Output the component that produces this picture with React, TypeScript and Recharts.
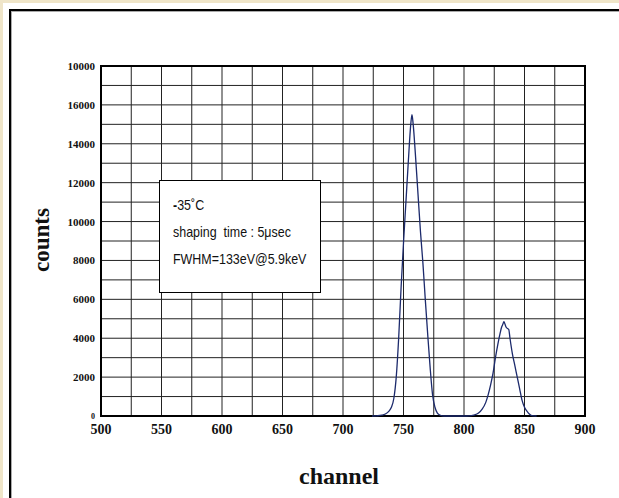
import React from "react";
import { LineChart, Line, XAxis, YAxis, CartesianGrid, ReferenceArea } from "recharts";

// channel positions and counts
const channels = [
  724, 728, 732, 735, 738, 740, 742, 744, 746, 748, 750, 752, 754, 756, 757,
  758, 760, 762, 764, 766, 768, 770, 772, 774, 776, 778, 780, 782, 785,
  790, 796, 800, 804, 808, 812, 815, 818, 820, 822, 824, 826, 828, 830, 831, 832, 833,
  834, 835, 836, 837, 838, 840, 842, 844, 846, 848, 850, 852, 854, 856, 860,
];
const counts = [
  0, 10, 40, 100, 250, 450, 900, 2000, 4000, 6600, 8900, 11000, 13100, 15000, 15500,
  15000, 13300, 11400, 9500, 7900, 6000, 4200, 2500, 1100, 450, 150, 50, 10, 0,
  0, 0, 0, 10, 50, 150, 350, 700, 1100, 1600, 2200, 3000, 3700, 4300, 4550, 4700, 4850,
  4700, 4550, 4500, 4450, 4000, 3200, 2600, 2000, 1400, 800, 450, 250, 100, 20, 0,
];

const xTicks = [500, 550, 600, 650, 700, 750, 800, 850, 900];
const xGrid = [525, 550, 575, 600, 625, 650, 675, 700, 725, 750, 775, 800, 825, 850, 875];
const yTicks = [0, 2000, 4000, 6000, 8000, 10000, 12000, 14000, 16000, 18000];
const yTickLabels = ["0", "2000", "4000", "6000", "8000", "10000", "12000", "14000", "16000", "10000"];
const yGrid = [1000, 2000, 3000, 4000, 5000, 6000, 7000, 8000, 9000, 10000, 11000, 12000, 13000, 14000, 15000, 16000, 17000];

const infoLines = ["35˚C", "shaping  time : 5μsec", "FWHM=133eV@5.9keV"];

const data = channels.map((c, i) => ({ channel: c, counts: counts[i] }));

const serif = "'Liberation Serif', 'Times New Roman', serif";
const sans = "'Liberation Sans', Arial, sans-serif";

const YTick = (props: any) => {
  const { x, y, payload } = props;
  const idx = yTicks.indexOf(payload.value);
  const label = idx >= 0 ? yTickLabels[idx] : String(payload.value);
  const small = payload.value === 0;
  return (
    <text
      x={x}
      y={y}
      dy={small ? 3 : 4}
      textAnchor="end"
      fontFamily={serif}
      fontWeight="bold"
      fontSize={small ? 8 : 11}
      fill="#111"
    >
      {label}
    </text>
  );
};

export default function App() {
  return (
    <div
      style={{
        position: "fixed",
        left: 0,
        top: 0,
        width: 619,
        height: 498,
        background: "#fff",
        overflow: "hidden",
      }}
    >
      {/* page frame */}
      <div style={{ position: "absolute", left: 0, top: 0, width: 619, height: 3, background: "#efe5c8" }} />
      <div style={{ position: "absolute", left: 0, top: 0, width: 3, height: 498, background: "#efe5c8" }} />
      <div
        style={{
          position: "absolute",
          left: 9,
          top: 9,
          width: 640,
          height: 520,
          borderLeft: "2px solid #000",
          borderTop: "2px solid #000",
          boxShadow: "inset 1px 1px 0 #aaa",
        }}
      />
      <div style={{ position: "absolute", left: 0, top: 0 }}>
        <LineChart
          width={619}
          height={498}
          data={data}
          margin={{ top: 66, right: 34, bottom: 52, left: 0 }}
        >
          <CartesianGrid
            stroke="#222"
            strokeWidth={1}
            verticalValues={xGrid}
            horizontalValues={yGrid}
          />
          <XAxis
            dataKey="channel"
            type="number"
            domain={[500, 900]}
            ticks={xTicks}
            interval={0}
            height={30}
            tickSize={0}
            tickMargin={8}
            axisLine={false}
            tickLine={false}
            tick={{ fontFamily: serif, fontWeight: "bold", fontSize: 14, fill: "#111" }}
            allowDataOverflow
          />
          <YAxis
            type="number"
            domain={[0, 18000]}
            ticks={yTicks}
            interval={0}
            width={101}
            tickSize={0}
            tickMargin={6}
            axisLine={false}
            tickLine={false}
            tick={<YTick />}
          />
          <ReferenceArea
            x1={500}
            x2={900}
            y1={0}
            y2={18000}
            fill="none"
            fillOpacity={0}
            stroke="#000"
            strokeWidth={2}
            ifOverflow="visible"
          />
          <Line
            type="monotone"
            dataKey="counts"
            stroke="#1c2a6c"
            strokeWidth={1.3}
            dot={false}
            isAnimationActive={false}
          />
        </LineChart>
      </div>

      {/* info box */}
      <div
        style={{
          position: "absolute",
          left: 159,
          top: 180,
          width: 160,
          height: 111,
          border: "1.5px solid #000",
          background: "#fff",
        }}
      />
      {infoLines.map((t, i) => (
        <div
          key={i}
          style={{
            position: "absolute",
            left: 173,
            top: 197 + i * 27,
            fontFamily: sans,
            fontSize: 15,
            lineHeight: "16px",
            color: "#111",
            whiteSpace: "pre",
            transform: "scaleX(0.83)",
            transformOrigin: "left center",
          }}
        >
          {i === 0 ? <span style={{ fontWeight: 900 }}>-</span> : null}
          {t}
        </div>
      ))}

      {/* axis titles */}
      <div
        style={{
          position: "absolute",
          left: 42,
          top: 240,
          transform: "translate(-50%, -50%) rotate(-90deg)",
          fontFamily: serif,
          fontWeight: "bold",
          fontSize: 23,
          color: "#111",
          whiteSpace: "nowrap",
        }}
      >
        counts
      </div>
      <div
        style={{
          position: "absolute",
          left: 339,
          top: 476,
          transform: "translate(-50%, -50%)",
          fontFamily: serif,
          fontWeight: "bold",
          fontSize: 24,
          color: "#111",
          whiteSpace: "nowrap",
        }}
      >
        channel
      </div>
    </div>
  );
}
